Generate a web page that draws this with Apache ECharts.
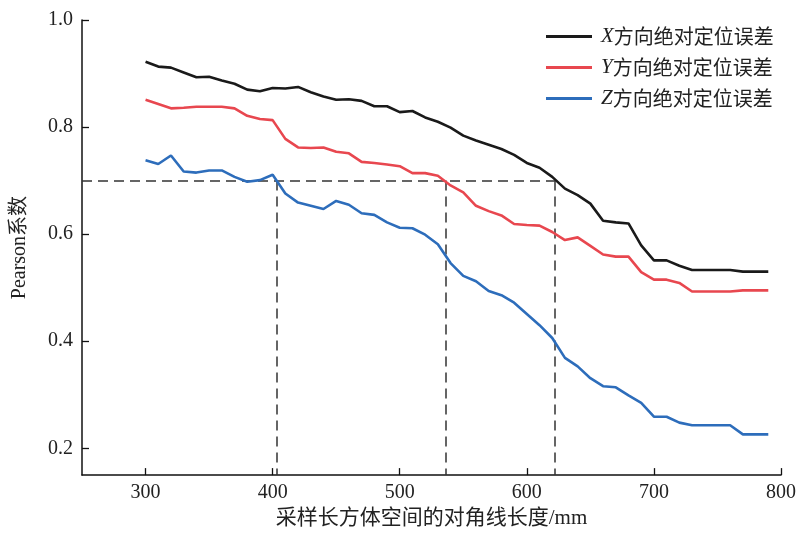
<!DOCTYPE html>
<html><head><meta charset="utf-8">
<script src="https://cdn.jsdelivr.net/npm/echarts@6/dist/echarts.min.js"></script>
<style>html,body{margin:0;padding:0;background:#fff}#c{width:799px;height:534px}</style>
</head><body><div id="c"></div>
<script>
// sampling-cuboid diagonal length (mm)
const lengths = [300,310,320,330,340,350,360,370,380,390,400,410,420,430,440,450,460,470,480,490,500,510,520,530,540,550,560,570,580,590,600,610,620,630,640,650,660,670,680,690,700,710,720,730,740,750,760,770,780,790];
const xError = [0.922,0.913,0.911,0.902,0.893,0.894,0.887,0.881,0.870,0.867,0.873,0.872,0.875,0.865,0.857,0.851,0.852,
  0.849,0.839,0.839,0.828,0.830,0.818,0.810,0.799,0.784,0.775,0.767,0.759,0.748,0.733,0.724,0.707,
  0.685,0.673,0.657,0.625,0.622,0.620,0.579,0.551,0.551,0.541,0.533,0.533,0.533,0.533,0.530,0.530,0.530];
const yError = [0.851,0.843,0.835,0.836,0.838,0.838,0.838,0.835,0.821,0.815,0.813,0.778,0.762,0.761,0.762,0.754,0.751,
  0.735,0.733,0.730,0.727,0.714,0.714,0.709,0.691,0.678,0.653,0.643,0.635,0.619,0.617,0.616,0.604,
  0.589,0.594,0.578,0.562,0.558,0.558,0.529,0.515,0.515,0.509,0.493,0.493,0.493,0.493,0.495,0.495,0.495];
const zError = [0.738,0.731,0.747,0.717,0.715,0.719,0.719,0.707,0.698,0.701,0.711,0.676,0.659,0.653,0.647,0.662,0.655,
  0.639,0.636,0.622,0.612,0.611,0.599,0.581,0.546,0.522,0.512,0.494,0.486,0.472,0.451,0.430,0.406,
  0.369,0.353,0.331,0.316,0.314,0.299,0.285,0.259,0.259,0.248,0.243,0.243,0.243,0.243,0.226,0.226,0.226];
const seriesNames = ['X方向绝对定位误差','Y方向绝对定位误差','Z方向绝对定位误差'];
const xTicks = [300,400,500,600,700,800];
const yTicks = [0.2,0.4,0.6,0.8,1.0];
const thresholdPearson = 0.7;
const crossLengths = [403, 536, 622];
const xAxisName = '采样长方体空间的对角线长度/mm';
const yAxisName = 'Pearson系数';

const X_MIN = 250, X_MAX = 800, Y_MIN = 0.15, Y_MAX = 1.0;
const FONT = "'Liberation Serif','Noto Sans CJK SC',serif";
const colors = ['#1a1a1a', '#e8474f', '#2d6dbb'];
const allSeries = [xError, yError, zError];

const chart = echarts.init(document.getElementById('c'), null, {renderer: 'canvas'});

const markData = [[{coord: [X_MIN, thresholdPearson]}, {coord: [crossLengths[crossLengths.length - 1], thresholdPearson]}]]
  .concat(crossLengths.map(x => [{coord: [x, thresholdPearson]}, {coord: [x, Y_MIN]}]));

const series = allSeries.map((vals, i) => ({
  name: seriesNames[i],
  type: 'line',
  data: lengths.map((x, j) => [x, vals[j]]),
  symbol: 'none',
  lineStyle: {color: colors[i], width: 2.6},
  itemStyle: {color: colors[i]},
  z: 3,
  markLine: i === 2 ? {
    silent: true,
    symbol: ['none', 'none'],
    label: {show: false},
    lineStyle: {color: '#333', width: 1.5, type: [10, 6]},
    emphasis: {disabled: true},
    data: markData,
    z: 2
  } : undefined
}));

chart.setOption({
  animation: false,
  backgroundColor: '#fff',
  grid: {left: 82, right: 17, top: 20, bottom: 56},
  legend: {
    data: seriesNames,
    orient: 'vertical',
    left: 541,
    top: 21,
    icon: 'rect',
    itemWidth: 46,
    itemHeight: 3,
    itemGap: 10,
    formatter: n => '{i|' + n[0] + '}{c|' + n.slice(1) + '}',
    textStyle: {
      padding: [0, 0, 0, 4],
      rich: {
        i: {fontFamily: "'Liberation Serif',serif", fontStyle: 'italic', fontSize: 21, color: '#222', lineHeight: 24},
        c: {fontFamily: "'Noto Sans CJK SC',sans-serif", fontSize: 20, color: '#222', lineHeight: 24}
      }
    }
  },
  xAxis: {
    type: 'value', min: X_MIN, max: X_MAX,
    name: xAxisName, nameLocation: 'middle', nameGap: 31,
    nameTextStyle: {fontFamily: FONT, fontSize: 21, color: '#222'},
    axisLine: {show: true, lineStyle: {color: '#111', width: 1.5}},
    axisTick: {show: true, inside: true, length: 7, customValues: xTicks, lineStyle: {color: '#111', width: 1.3}},
    axisLabel: {customValues: xTicks, margin: 8, fontFamily: FONT, fontSize: 20, color: '#222', formatter: v => String(v)},
    splitLine: {show: false}
  },
  yAxis: {
    type: 'value', min: Y_MIN, max: Y_MAX,
    name: yAxisName, nameLocation: 'middle', nameGap: 52, nameRotate: 90,
    nameTextStyle: {fontFamily: FONT, fontSize: 20, color: '#222'},
    axisLine: {show: true, lineStyle: {color: '#111', width: 1.5}},
    axisTick: {show: true, inside: true, length: 7, customValues: yTicks, lineStyle: {color: '#111', width: 1.3}},
    axisLabel: {customValues: yTicks, margin: 9, fontFamily: FONT, fontSize: 20, color: '#222', formatter: v => v.toFixed(1)},
    splitLine: {show: false}
  },
  series: series
});
</script></body></html>
